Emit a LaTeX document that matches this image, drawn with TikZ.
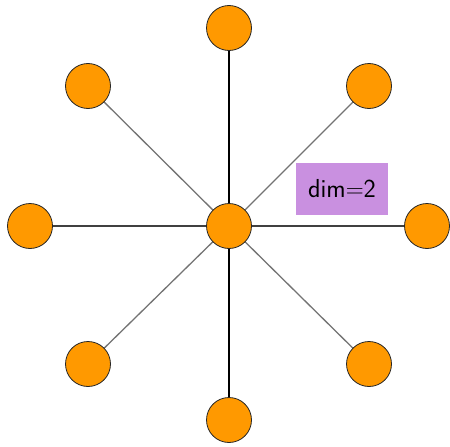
\documentclass[tikz,border=0pt]{standalone}
\usepackage{xcolor}
\usetikzlibrary{backgrounds}
\definecolor{dotfill}{HTML}{FF9900}
\definecolor{dimbg}{HTML}{C990E0}
\begin{document}
\begin{tikzpicture}[x=1pt,y=-1pt,
  dot/.style={circle,fill=dotfill,draw=black!85,line width=0.8pt,minimum size=45pt,inner sep=0pt},
  axisline/.style={black,line width=1.3pt},
  diagline/.style={black!55,line width=1.3pt}]
\useasboundingbox (0,0) rectangle (450,447);
\node[dot] (c) at (229,226) {};
\node[dot] (n) at (229,28) {};
\node[dot] (s) at (229,420) {};
\node[dot] (w) at (30,226) {};
\node[dot] (e) at (427,226) {};
\node[dot] (nw) at (88,86) {};
\node[dot] (ne) at (369,86) {};
\node[dot] (sw) at (88,364) {};
\node[dot] (se) at (369,364) {};
\begin{scope}[on background layer]
  \draw[axisline] (c) -- (n);
  \draw[axisline] (c) -- (s);
  \draw[axisline,black!75] (c) -- (w);
  \draw[axisline,black!75] (c) -- (e);
  \draw[diagline] (c) -- (nw);
  \draw[diagline] (c) -- (ne);
  \draw[diagline] (c) -- (sw);
  \draw[diagline] (c) -- (se);
\end{scope}
\node[fill=dimbg,minimum width=92pt,minimum height=52pt,inner sep=0pt,font=\sffamily\fontsize{26}{30}\selectfont] (lbl) at (342,189) {dim$=$2};
\end{tikzpicture}
\end{document}
